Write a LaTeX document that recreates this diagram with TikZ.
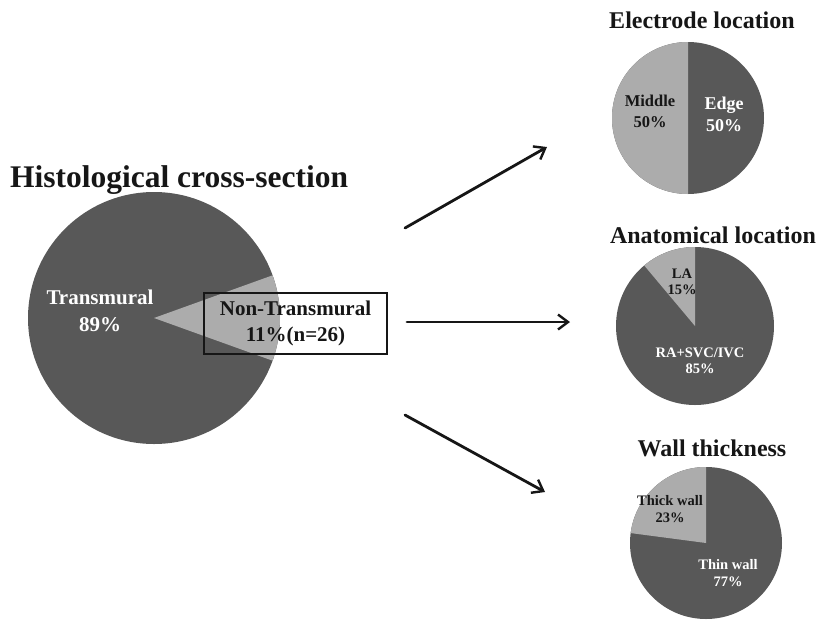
\documentclass[tikz,border=0pt]{standalone}
\usepackage{fontspec}
\setmainfont{Liberation Serif}
\usetikzlibrary{arrows.meta}
\definecolor{piedark}{RGB}{88,88,88}
\definecolor{pielight}{RGB}{172,172,172}
\definecolor{inkdark}{RGB}{22,22,22}
\newcommand{\lblfont}[2]{\fontsize{#1}{#2}\selectfont\bfseries}

\begin{document}
\begin{tikzpicture}[x=1pt,y=-1pt,
  title/.style={font=\lblfont{24}{28},text=inkdark,anchor=base},
  darklbl/.style={align=center,text=white,inner sep=0pt},
  lightlbl/.style={align=center,text=inkdark,inner sep=0pt},
  link/.style={line width=2.8pt,inkdark,line cap=round,
    -{Straight Barb[length=10pt,width=15pt,line width=2.4pt]}}]
  \useasboundingbox (0,0) rectangle (823,622);
  % histological cross-section, non-transmural wedge on the right
  \fill[piedark] (154,318) circle (126);
  \fill[pielight] (154,318) -- ++(-19.8:126)
    arc[start angle=-19.8,end angle=19.8,radius=126] -- cycle;
  \node[title,font=\lblfont{31.5}{36}] (histo) at (179,187) {Histological cross-section};
  \node[darklbl,font=\lblfont{21}{27}] (trans) at (100,311) {Transmural\\89\%};
  \node[lightlbl,draw=inkdark,line width=2pt,minimum width=183pt,minimum height=61pt,
    font=\lblfont{21}{26}] (nontrans) at (295.5,323.5) {Non-Transmural\\11\%(n=26)};
  % electrode location
  \fill[piedark] (688,118) circle (76);
  \fill[pielight] (688,118) -- ++(-90:76)
    arc[start angle=-90,end angle=-270,radius=76] -- cycle;
  \node[title] (electrode) at (702,28) {Electrode location};
  \node[lightlbl,font=\lblfont{16.5}{21}] (middle) at (650,111.5) {Middle\\50\%};
  \node[darklbl,font=\lblfont{18}{22}] (edge) at (724,114) {Edge\\50\%};
  % anatomical location
  \fill[piedark] (695,326) circle (79);
  \fill[pielight] (695,326) -- ++(-90:79)
    arc[start angle=-90,end angle=-130,radius=79] -- cycle;
  \node[title] (anat) at (713,243) {Anatomical location};
  \node[lightlbl,font=\lblfont{14.5}{16}] (la) at (682,281.5) {LA\\15\%};
  \node[darklbl,font=\lblfont{14.5}{16}] (ra) at (700,361) {RA+SVC/IVC\\85\%};
  % wall thickness
  \fill[piedark] (706,543) circle (76);
  \fill[pielight] (706,543) -- ++(-90:76)
    arc[start angle=-90,end angle=-172.5,radius=76] -- cycle;
  \node[title] (wall) at (712,456) {Wall thickness};
  \node[lightlbl,font=\lblfont{14.5}{17}] (thick) at (670,509) {Thick wall\\23\%};
  \node[darklbl,font=\lblfont{14.5}{17}] (thin) at (728,573.5) {Thin wall\\77\%};
  % arrows to the three breakdowns
  \coordinate (up0) at (405,228);   \coordinate (up1) at (547,147);
  \coordinate (mid0) at (407,322);  \coordinate (mid1) at (570,322);
  \coordinate (down0) at (405,415); \coordinate (down1) at (545,492);
  \foreach \n in {up,mid,down}
    \draw[link] (\n0) -- (\n1);
\end{tikzpicture}
\end{document}
